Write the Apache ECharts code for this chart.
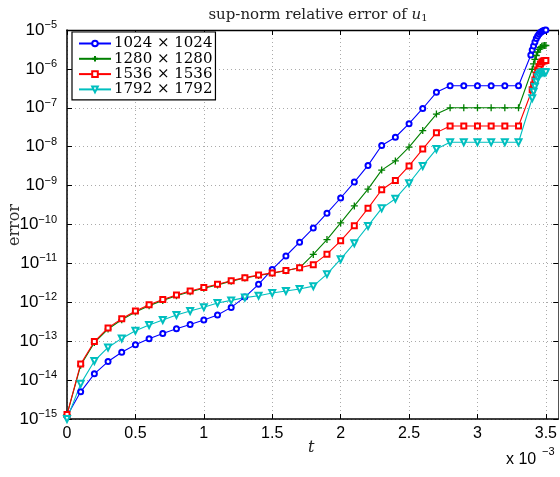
<!DOCTYPE html>
<html><head><meta charset="utf-8">
<script src="https://cdn.jsdelivr.net/npm/echarts@6/dist/echarts.min.js"></script>
<style>html,body{margin:0;padding:0;background:#fff}#c{width:560px;height:477px}</style>
</head><body><div id="c"></div>
<script>
// time in units of 1e-3
const tMain = [0,0.1,0.2,0.3,0.4,0.5,0.6,0.7,0.8,0.9,1.0,1.1,1.2,1.3,1.4,1.5,1.6,1.7,1.8,1.9,2.0,2.1,2.2,2.3,2.4,2.5,2.6,2.7,2.8,2.9,3.0,3.1,3.2,3.3];
const tTailBlue = [3.39,3.40,3.41,3.42,3.43,3.44,3.45,3.46,3.47,3.48,3.49,3.50];
const tTailOther = [3.40,3.41,3.42,3.43,3.44,3.45,3.46,3.47,3.48,3.49,3.50];

const err1024 = [1.2e-15,5e-15,1.45e-14,3e-14,5.2e-14,8.1e-14,1.15e-13,1.57e-13,2.1e-13,2.7e-13,3.5e-13,4.7e-13,7.4e-13,1.36e-12,2.9e-12,7.0e-12,1.55e-11,3.5e-11,8.1e-11,1.95e-10,4.8e-10,1.23e-9,3.3e-9,1.07e-8,1.75e-8,3.9e-8,9.6e-8,2.5e-7,3.7e-7,3.7e-7,3.7e-7,3.7e-7,3.7e-7,3.7e-7];
const tail1024 = [2.28e-6,3.06e-6,3.88e-6,4.92e-6,6.05e-6,7.01e-6,7.89e-6,8.63e-6,9.15e-6,9.54e-6,9.8e-6,1e-5];

const err1280 = [1.3e-15,2.4e-14,9.2e-14,2.05e-13,3.55e-13,5.6e-13,8.2e-13,1.12e-12,1.47e-12,1.87e-12,2.3e-12,2.8e-12,3.5e-12,4.2e-12,4.9e-12,5.6e-12,6.5e-12,7.7e-12,1.7e-11,4.1e-11,1.1e-10,3.0e-10,8.1e-10,2.5e-9,4.3e-9,9.8e-9,2.6e-8,6.9e-8,1.0e-7,1.0e-7,1.0e-7,1.0e-7,1.0e-7,1.0e-7];
const tail1280 = [9.8e-7,1.34e-6,1.75e-6,2.21e-6,2.72e-6,3.16e-6,3.55e-6,3.81e-6,3.93e-6,4.0e-6,4.0e-6];

const err1536 = [1.3e-15,2.6e-14,9.8e-14,2.2e-13,3.8e-13,6.0e-13,8.7e-13,1.18e-12,1.54e-12,1.95e-12,2.4e-12,2.9e-12,3.6e-12,4.3e-12,5.0e-12,5.7e-12,6.6e-12,7.7e-12,9.3e-12,1.73e-11,3.8e-11,9.3e-11,2.6e-10,7.8e-10,1.35e-9,3.2e-9,8.7e-9,2.3e-8,3.4e-8,3.4e-8,3.4e-8,3.4e-8,3.4e-8,3.4e-8];
const tail1536 = [2.9e-7,3.87e-7,5.2e-7,6.98e-7,9.4e-7,1.14e-6,1.34e-6,1.51e-6,1.6e-6,1.63e-6,1.65e-6];

const err1792 = [1.0e-15,8e-15,3.1e-14,6.9e-14,1.18e-13,1.85e-13,2.6e-13,3.5e-13,4.7e-13,6.0e-13,7.5e-13,9.6e-13,1.12e-12,1.32e-12,1.48e-12,1.73e-12,1.95e-12,2.2e-12,2.6e-12,5.3e-12,1.28e-11,3.3e-11,9.2e-11,2.6e-10,4.6e-10,1.15e-9,3.2e-9,8.7e-9,1.3e-8,1.3e-8,1.3e-8,1.3e-8,1.3e-8,1.3e-8];
const tail1792 = [1.76e-7,2.6e-7,3.5e-7,4.7e-7,6.1e-7,7.0e-7,7.7e-7,8.0e-7,8.2e-7,8.2e-7,8.2e-7];

const names = ['1024 × 1024','1280 × 1280','1536 × 1536','1792 × 1792'];
const xTicks = [0,0.5,1,1.5,2,2.5,3,3.5];

function pairs(ts, vs){ return ts.map((t,i)=>[t, vs[i]]); }
const d1024 = pairs(tMain, err1024).concat(pairs(tTailBlue, tail1024));
const d1280 = pairs(tMain, err1280).concat(pairs(tTailOther, tail1280));
const d1536 = pairs(tMain, err1536).concat(pairs(tTailOther, tail1536));
const d1792 = pairs(tMain, err1792).concat(pairs(tTailOther, tail1792));

const chart = echarts.init(document.getElementById('c'), null, {renderer:'canvas'});
const serif = 'DejaVu Serif';
const sans = 'Liberation Sans';
const gridL = 67, gridR = 1, gridT = 30, gridB = 58;
const splitDot = {show:true, lineStyle:{color:'#aaa', type:[1,3], width:1}};

function mkSeries(name, data, color, symbol, opts){
  return Object.assign({
    name, type:'line', data, clip:false,
    symbol, symbolSize:5,
    lineStyle:{color, width:1.1},
    itemStyle:{color, borderColor:color, borderWidth:1.2},
    emphasis:{disabled:true},
    animation:false, z:3
  }, opts||{});
}

const option = {
  animation:false,
  title:{
    text:'sup-norm relative error of {i|u}{sub|1}',
    left: 313, top: 2, textAlign:'center',
    textStyle:{fontFamily:serif, fontSize:15, fontWeight:'normal', color:'#222',
      rich:{i:{fontFamily:serif, fontStyle:'italic', fontSize:15, color:'#222'},
            sub:{fontFamily:serif, fontSize:10, color:'#222', padding:[6,0,0,0]}}}
  },
  grid:{left:gridL, right:gridR, top:gridT, bottom:gridB, containLabel:false},
  legend:{
    orient:'vertical', left:72, top:32,
    backgroundColor:'#fff', borderColor:'#000', borderWidth:1.2, borderRadius:0,
    padding:[4,3,3,6], itemGap:0.3, itemWidth:32, itemHeight:7,
    textStyle:{fontFamily:serif, fontSize:15, color:'#000', lineHeight:15, padding:[0,0,0,-2]},
    data:names
  },
  xAxis:[{
    type:'value', min:0, max:3.59, interval:0.5,
    axisLine:{show:true, onZero:false, lineStyle:{color:'#000', width:1.5}},
    axisTick:{show:true, inside:true, length:5, lineStyle:{color:'#000'}},
    axisLabel:{margin:7, fontFamily:sans, fontSize:16, color:'#000', showMaxLabel:false,
      formatter:v=> xTicks.some(x=>Math.abs(x-v)<1e-9) ? String(v) : ''},
    splitLine:splitDot
  },{
    type:'value', position:'top', min:0, max:3.59, interval:0.5,
    axisLine:{show:true, onZero:false, lineStyle:{color:'#000', width:1.3}},
    axisTick:{show:true, inside:true, length:5, lineStyle:{color:'#000'}},
    axisLabel:{show:false}, splitLine:{show:false}
  }],
  yAxis:[{
    type:'log', logBase:10, min:1e-15, max:1e-5, interval:1,
    axisLine:{show:true, onZero:false, lineStyle:{color:'#000', width:1.5}},
    axisTick:{show:true, inside:true, length:5, lineStyle:{color:'#000'}},
    minorTick:{show:false},
    axisLabel:{margin:10, color:'#000',
      formatter:v=>{ const e=Math.round(Math.log10(v)); return '{b|10}{s|−'+(-e)+'}'; },
      rich:{b:{fontFamily:sans, fontSize:17, color:'#000'},
            s:{fontFamily:sans, fontSize:11, color:'#000', padding:[0,0,10,0]}}},
    splitLine:splitDot
  },{
    type:'log', logBase:10, min:1e-15, max:1e-5, interval:1, position:'right',
    axisLine:{show:true, onZero:false, lineStyle:{color:'#555', width:1}},
    axisTick:{show:true, inside:true, length:5, lineStyle:{color:'#000'}},
    axisLabel:{show:false}, splitLine:{show:false}
  }],
  series:[
    mkSeries(names[0], d1024, '#0000ff', 'emptyCircle'),
    mkSeries(names[1], d1280, '#008000', 'path://M5,0 L5,10 M0,5 L10,5', {symbolSize:7, itemStyle:{color:'#008000', borderColor:'#008000', borderWidth:1.3}}),
    mkSeries(names[2], d1536, '#ff0000', 'emptyRect', {symbolSize:5, itemStyle:{color:'#ff0000', borderColor:'#ff0000', borderWidth:1.6}}),
    mkSeries(names[3], d1792, '#00bfbf', 'emptyTriangle', {symbolSize:6, symbolRotate:180})
  ],
  graphic:[
    {type:'text', style:{text:'t', font:'italic 16px "DejaVu Serif"', fill:'#222'}, left:308, top:440},
    {type:'text', style:{text:'error', font:'16px "DejaVu Serif"', fill:'#333', textAlign:'center', textVerticalAlign:'middle'}, x:15, y:225, rotation:Math.PI/2},
    {type:'text', style:{text:'x 10', font:'16px "Liberation Sans"', fill:'#000'}, left:506, top:452},
    {type:'text', style:{text:'−3', font:'11px "Liberation Sans"', fill:'#000'}, left:542, top:446}
  ]
};
chart.setOption(option);
</script>
</body></html>
